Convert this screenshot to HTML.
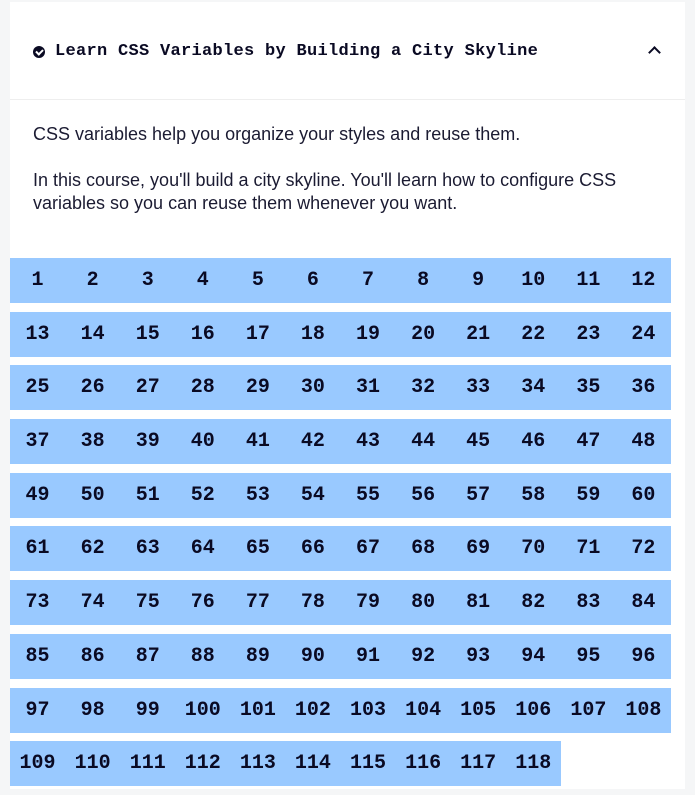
<!DOCTYPE html>
<html><head><meta charset="utf-8"><style>
body{margin:0;width:695px;height:791px;background:#f5f6f7;overflow:hidden;font-family:"Liberation Sans",sans-serif;color:#0a0a23}
.card{position:absolute;left:10px;top:2px;width:675px;height:787px;background:#fff}
.hdr{height:97px;border-bottom:1px solid #eee;position:relative}
.title{position:absolute;left:45px;top:40px;font:bold 17px "Liberation Mono",monospace;letter-spacing:0.3px;color:#0a0a23}
.chk{position:absolute;left:23px;top:44px;width:12px;height:12px;border-radius:50%;background:#0a0a23}
.chk:after{content:"";position:absolute;left:3px;top:2.5px;width:5px;height:3px;border-left:2px solid #fff;border-bottom:2px solid #fff;transform:rotate(-45deg)}
.caret{position:absolute;left:640px;top:46px;width:7px;height:7px;border-left:2px solid #0a0a23;border-top:2px solid #0a0a23;transform:rotate(45deg)}
p{position:absolute;left:23px;margin:0;font-size:18px;line-height:23px;color:#1b1b32;width:630px}
.grid{position:absolute;left:0;top:256px;width:661px}
.row{height:45px;margin-bottom:8.7px;display:flex;background:#99c9ff}
.cell{width:55.08px;flex:none;text-align:center;font:bold 20px "Liberation Mono",monospace;line-height:45px;color:#0a0a23}
</style></head><body>
<div class="card">
<div class="hdr">
<span class="chk"></span>
<span class="title">Learn CSS Variables by Building a City Skyline</span>
<span class="caret"></span>
</div>
<p style="top:121px">CSS variables help you organize your styles and reuse them.</p>
<p style="top:167px">In this course, you'll build a city skyline. You'll learn how to configure CSS variables so you can reuse them whenever you want.</p>
<div class="grid" id="grid"></div>
</div>
<script>
const totalSteps = 118;
const perRow = 12;
const g = document.getElementById('grid');
for (let r = 0; r * perRow < totalSteps; r++) {
  const row = document.createElement('div');
  row.className = 'row';
  
  
  const n = Math.min(perRow, totalSteps - r * perRow);
  row.style.width = (n * 55.08) + 'px';
  for (let i = 0; i < n; i++) {
    const c = document.createElement('div');
    c.className = 'cell';
    c.textContent = r * perRow + i + 1;
    
    
    row.appendChild(c);
  }
  g.appendChild(row);
}
</script>
</body></html>
